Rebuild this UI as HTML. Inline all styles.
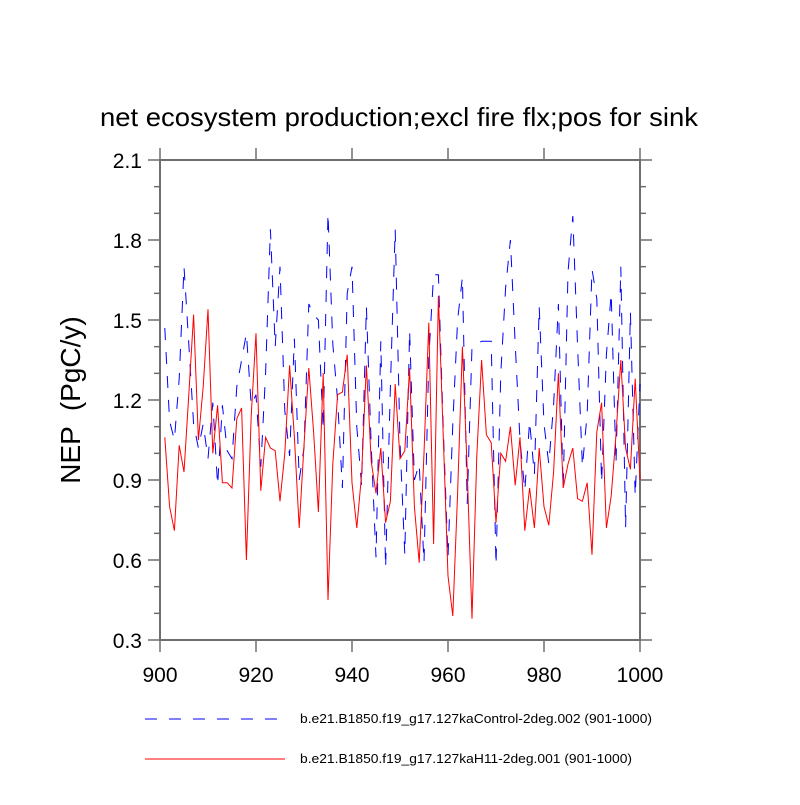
<!DOCTYPE html>
<html><head><meta charset="utf-8"><style>
html,body{margin:0;padding:0;background:#fff;}
svg text{font-family:"Liberation Sans",sans-serif;white-space:pre;}
</style></head><body>
<svg id="chart" width="800" height="800" viewBox="0 0 800 800" xmlns="http://www.w3.org/2000/svg">
<text x="399" y="126" font-size="26" text-anchor="middle" textLength="598" lengthAdjust="spacingAndGlyphs">net ecosystem production;excl fire flx;pos for sink</text>
<text transform="translate(80,400) rotate(-90)" font-size="28" text-anchor="middle" xml:space="preserve">NEP  (PgC/y)</text>
<g id="axes"></g>
<g id="series"></g>
<g>
<line x1="145" y1="719" x2="285" y2="719" stroke="#00f" stroke-width="1" stroke-dasharray="12,12"/>
<text x="300" y="723" font-size="13" textLength="352" lengthAdjust="spacingAndGlyphs">b.e21.B1850.f19_g17.127kaControl-2deg.002 (901-1000)</text>
<line x1="145" y1="759" x2="285" y2="759" stroke="#f00" stroke-width="1"/>
<text x="300" y="763" font-size="13" textLength="332" lengthAdjust="spacingAndGlyphs">b.e21.B1850.f19_g17.127kaH11-2deg.001 (901-1000)</text>
</g>
</svg>
<script>
const years = Array.from({length:100},(_, i)=>901+i);
const controlValues = [1.47,1.12,1.05,1.28,1.70,1.41,1.11,1.02,1.11,0.98,1.19,0.88,1.18,1.01,0.98,1.25,1.35,1.45,1.18,1.22,0.95,1.30,1.84,1.40,1.70,1.16,0.99,1.43,0.90,1.02,1.56,1.52,1.50,1.09,1.90,1.41,1.20,0.87,1.60,1.70,1.10,0.88,1.55,1.03,0.61,1.42,0.57,1.25,1.84,1.04,0.62,1.46,0.90,0.96,0.59,1.36,1.67,1.67,1.10,0.61,1.11,1.50,1.66,0.81,1.40,1.41,1.42,1.42,1.42,0.58,1.30,1.62,1.80,1.41,1.05,0.86,1.12,0.92,1.55,1.11,0.96,1.18,1.56,0.87,1.68,1.89,1.40,0.95,1.15,1.69,1.58,0.89,1.37,1.60,0.96,1.70,0.72,1.53,0.84,1.26];
const h11Values = [1.06,0.80,0.71,1.03,0.93,1.22,1.52,1.05,1.25,1.54,1.00,1.18,0.89,0.89,0.87,1.13,1.17,0.60,1.14,1.45,0.86,1.06,1.02,1.01,0.82,1.00,1.33,1.06,0.72,1.03,1.32,1.08,0.78,1.30,0.45,0.96,1.22,1.23,1.37,0.89,0.72,0.92,1.33,0.97,0.85,1.02,0.74,0.82,1.26,0.98,1.01,1.32,0.80,0.59,1.00,1.49,0.66,1.59,1.07,0.54,0.39,0.85,1.40,0.94,0.38,0.99,1.35,1.07,1.04,0.74,1.00,0.97,1.10,0.88,1.06,0.71,0.87,0.72,1.02,0.80,0.73,0.93,1.30,0.87,0.96,1.02,0.83,0.82,0.89,0.62,1.08,1.19,0.72,0.84,1.07,1.35,1.02,0.94,1.28,0.90];
const xTicks = [900,920,940,960,980,1000];
const yTicks = [0.3,0.6,0.9,1.2,1.5,1.8,2.1];
const yTickLabels = ["0.3","0.6","0.9","1.2","1.5","1.8","2.1"];

const L=160,R=640,T=160,B=640;
const xs = v => L + (v-900)/(1000-900)*(R-L);
const ys = v => B - (v-0.3)/(2.1-0.3)*(B-T);
const NS="http://www.w3.org/2000/svg";
const axes=document.getElementById('axes'), series=document.getElementById('series');
function mk(tag, attrs, parent){const e=document.createElementNS(NS,tag);for(const k in attrs)e.setAttribute(k,attrs[k]);parent.appendChild(e);return e;}
const ax="#6e6e6e";
const frame=mk('rect',{x:L,y:T,width:R-L,height:B-T,fill:'none',stroke:ax,'stroke-width':2},axes);


xTicks.forEach(v=>{
  const x=xs(v);
  const t1=mk('line',{x1:x,y1:B,x2:x,y2:B+12,stroke:ax,'stroke-width':1.5},axes);
  
  
  const t2=mk('line',{x1:x,y1:T,x2:x,y2:T-12,stroke:ax,'stroke-width':1.5},axes);
  
  
  const tx=mk('text',{x:x,y:B+42,'font-size':21,'text-anchor':'middle'},axes);
  tx.textContent=v;
  
  
});
yTicks.forEach((v,i)=>{
  const y=ys(v);
  const t1=mk('line',{x1:L-12,y1:y,x2:L,y2:y,stroke:ax,'stroke-width':1.5},axes);
  
  
  const t2=mk('line',{x1:R,y1:y,x2:R+12,y2:y,stroke:ax,'stroke-width':1.5},axes);
  
  
  const tx=mk('text',{x:L-18,y:y+8,'font-size':21,'text-anchor':'end'},axes);
  tx.textContent=yTickLabels[i];
  
  
  if(i<yTicks.length-1){
    [0.1,0.2].forEach(d=>{
      const yy=ys(v+d);
      const m1=mk('line',{x1:L-6,y1:yy,x2:L,y2:yy,stroke:ax,'stroke-width':1.5},axes);
      
      
      const m2=mk('line',{x1:R,y1:yy,x2:R+6,y2:yy,stroke:ax,'stroke-width':1.5},axes);
      
      
    });
  }
});
function pts(vals){return vals.map((v,i)=>xs(years[i]).toFixed(1)+','+ys(v).toFixed(1)).join(' ');}
const pc=mk('polyline',{points:pts(controlValues),fill:'none',stroke:'#00f','stroke-width':1,'stroke-dasharray':'12,12'},series);


const ph=mk('polyline',{points:pts(h11Values),fill:'none',stroke:'#f00','stroke-width':1},series);


</script>
</body></html>
